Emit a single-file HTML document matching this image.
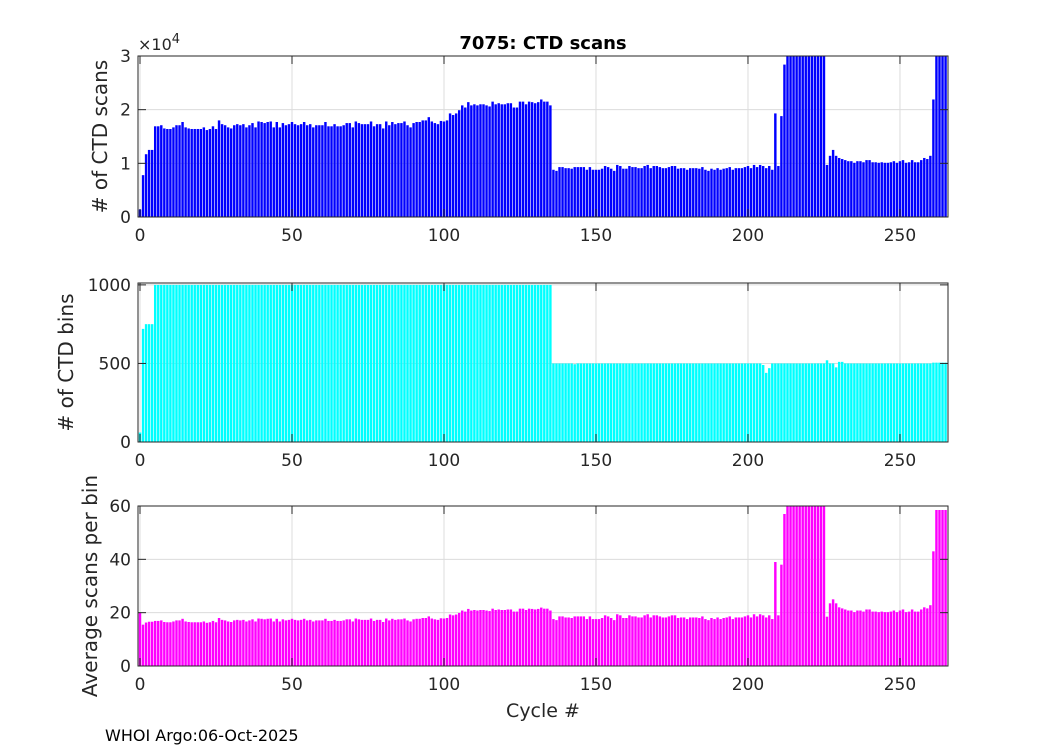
<!DOCTYPE html>
<html><head><meta charset="utf-8"><style>
html,body{margin:0;padding:0;background:#fff;}
svg text{font-family:"DejaVu Sans","Liberation Sans",sans-serif;fill:#262626;}
</style></head><body>
<svg id="chart" width="1050" height="750" viewBox="0 0 1050 750" xmlns="http://www.w3.org/2000/svg">
<rect width="1050" height="750" fill="#fff"/>
<text x="543" y="49" font-size="18" font-weight="bold" text-anchor="middle" style="fill:#000">7075: CTD scans</text>
<text x="543" y="717" font-size="19" text-anchor="middle">Cycle #</text>
<text x="105" y="741" font-size="16" style="fill:#000">WHOI Argo:06-Oct-2025</text>
</svg>
<script>
const cycles = [];
for (let i = 0; i < 266; i++) cycles.push(i);
const scansK = [
1.4,7.8,11.7,12.5,12.5,
16.9,16.9,17.1,16.5,16.4,16.4,16.7,17.1,17.1,17.7,
16.7,16.5,16.4,16.4,16.4,16.4,16.7,16.2,16.4,16.9,
16.4,18.0,17.3,17.1,16.7,16.5,17.1,17.3,17.1,17.3,
16.7,17.1,17.5,16.7,17.8,17.7,17.5,17.7,17.8,16.7,
17.7,16.7,17.5,17.1,17.3,17.7,17.3,17.1,17.3,17.7,
17.1,17.3,16.7,17.1,17.1,17.1,17.7,16.9,16.9,17.3,
16.9,16.9,17.1,17.5,17.5,16.7,17.8,17.5,17.3,17.3,
17.3,17.8,16.9,17.3,17.3,16.5,17.8,17.1,17.7,17.3,
17.5,17.5,17.8,17.1,
16.7,17.5,17.7,17.7,18.0,18.0,18.6,17.8,17.5,17.3,
17.9,17.8,18.0,19.3,19.0,19.3,19.9,20.8,20.4,21.4,
20.8,21.0,20.8,21.0,21.0,20.8,20.6,21.5,21.0,21.2,
21.0,21.0,21.2,21.2,20.4,20.4,21.5,21.5,21.0,21.5,
21.4,21.2,21.4,21.9,21.5,21.5,20.8,
8.8,8.6,9.3,9.3,9.1,9.1,9.0,9.3,9.3,9.3,
9.3,8.8,9.3,8.8,8.8,8.8,9.0,9.5,9.3,9.0,
8.6,9.7,9.5,9.0,9.0,9.5,9.3,9.3,9.1,9.1,
9.5,9.7,9.1,9.5,9.5,9.3,9.1,9.1,9.3,9.5,
9.5,9.0,
9.1,9.1,8.8,9.1,9.1,9.1,9.0,9.3,8.8,8.6,
9.0,8.8,9.1,8.8,9.0,9.1,9.3,8.8,9.1,9.1,
9.1,9.3,9.5,9.1,9.7,9.3,9.7,9.5,9.1,9.5,
8.8,
19.3,9.5,18.8,28.4,
40,40,40,40,40,40,40,40,40,40,40,40,40,
9.7,11.4,12.5,11.4,11.0,10.8,10.6,10.4,10.4,10.1,
10.4,10.4,10.2,10.6,10.6,10.2,10.2,10.1,10.2,10.1,
10.1,10.2,10.4,10.1,10.4,10.6,10.1,10.2,10.6,10.2,
10.2,10.6,11.0,10.8,11.4,
21.9,40,40,40,40];
const bins = [
60,720,750,750,750,1000,1000,1000,1000,1000,
1000,1000,1000,1000,1000,1000,1000,1000,1000,1000,
1000,1000,1000,1000,1000,1000,1000,1000,1000,1000,
1000,1000,1000,1000,1000,1000,1000,1000,1000,1000,
1000,1000,1000,1000,1000,1000,1000,1000,1000,1000,
1000,1000,1000,1000,1000,1000,1000,1000,1000,1000,
1000,1000,1000,1000,1000,1000,1000,1000,1000,1000,
1000,1000,1000,1000,1000,1000,1000,1000,1000,1000,
1000,1000,1000,1000,1000,1000,1000,1000,1000,1000,
1000,1000,1000,1000,1000,1000,1000,1000,1000,1000,
1000,1000,1000,1000,1000,1000,1000,1000,1000,1000,
1000,1000,1000,1000,1000,1000,1000,1000,1000,1000,
1000,1000,1000,1000,1000,1000,1000,1000,1000,1000,
1000,1000,1000,1000,1000,1000,500,500,500,500,
500,500,500,495,500,500,500,500,500,500,
500,500,500,500,500,500,500,500,500,500,
500,500,500,500,500,500,500,500,500,500,
500,500,500,500,500,500,500,500,500,500,
500,500,500,500,500,500,500,500,500,500,
500,500,500,500,500,500,500,500,500,500,
500,500,500,500,500,490,440,470,500,500,
500,500,500,500,500,500,500,500,500,500,
500,500,500,500,500,500,520,500,500,475,
510,510,500,500,500,500,500,500,500,500,
500,500,500,500,500,500,500,500,500,500,
500,500,500,500,500,500,500,500,500,500,
500,505,505,505,505,505];
const avgScans = [
20,15.5,16.3,16.6,16.6,
16.9,16.9,17.1,16.5,16.4,16.4,16.7,17.1,17.1,17.7,
16.7,16.5,16.4,16.4,16.4,16.4,16.7,16.2,16.4,16.9,
16.4,18.0,17.3,17.1,16.7,16.5,17.1,17.3,17.1,17.3,
16.7,17.1,17.5,16.7,17.8,17.7,17.5,17.7,17.8,16.7,
17.7,16.7,17.5,17.1,17.3,17.7,17.3,17.1,17.3,17.7,
17.1,17.3,16.7,17.1,17.1,17.1,17.7,16.9,16.9,17.3,
16.9,16.9,17.1,17.5,17.5,16.7,17.8,17.5,17.3,17.3,
17.3,17.8,16.9,17.3,17.3,16.5,17.8,17.1,17.7,17.3,
17.5,17.5,17.8,17.1,
16.7,17.5,17.7,17.7,18.0,18.0,18.6,17.8,17.5,17.3,
17.9,17.8,18.0,19.3,19.0,19.3,19.9,20.8,20.4,21.4,
20.8,21.0,20.8,21.0,21.0,20.8,20.6,21.5,21.0,21.2,
21.0,21.0,21.2,21.2,20.4,20.4,21.5,21.5,21.0,21.5,
21.4,21.2,21.4,21.9,21.5,21.5,20.8,
17.6,17.2,18.6,18.6,18.2,18.2,18.0,18.6,18.6,18.6,
18.6,17.6,18.6,17.6,17.6,17.6,18.0,19.0,18.6,18.0,
17.2,19.4,19.0,18.0,18.0,19.0,18.6,18.6,18.2,18.2,
19.0,19.4,18.2,19.0,19.0,18.6,18.2,18.2,18.6,19.0,
19.0,18.0,
18.2,18.2,17.6,18.2,18.2,18.2,18.0,18.6,17.6,17.2,
18.0,17.6,18.2,17.6,18.0,18.2,18.6,17.6,18.2,18.2,
18.2,18.6,19.0,18.2,19.4,18.6,19.4,19.0,18.2,19.0,
17.6,
39,19,38,57,
70,70,70,70,70,70,70,70,70,70,70,70,70,
18.5,23.5,25,23.5,22,21.6,21.2,20.8,20.8,20.2,
20.8,20.8,20.4,21.2,21.2,20.4,20.4,20.2,20.4,20.2,
20.2,20.4,20.8,20.2,20.8,21.2,20.2,20.4,21.2,20.4,
20.4,21.2,22,21.6,22.8,
43,58.5,58.5,58.5,58.5];
const xTicks = [0, 50, 100, 150, 200, 250];
const scanTicks = [0, 1, 2, 3];
const binTicks = [0, 500, 1000];
const avgTicks = [0, 20, 40, 60];

const NS = 'http://www.w3.org/2000/svg';
const svg = document.getElementById('chart');
const X0 = 138, X1 = 948, XMIN = -0.66, XMAX = 265.8;
function xs(v) { return X0 + (v - XMIN) / (XMAX - XMIN) * (X1 - X0); }
function mk(tag, attrs, parent) {
  const e = document.createElementNS(NS, tag);
  for (const k in attrs) e.setAttribute(k, attrs[k]);
  (parent || svg).appendChild(e);
  return e;
}
function panel(key, top, bottom, ymax, ticks, values, color, ylabel, labelX) {
  const ys = v => bottom - v / ymax * (bottom - top);
  const g = mk('g', {});
  
  
  const cp = mk('clipPath', { id: 'clip-' + key }, g);
  mk('rect', { x: X0, y: top, width: X1 - X0, height: bottom - top }, cp);
  xTicks.forEach(t => {
    const l = mk('line', { x1: xs(t), x2: xs(t), y1: top, y2: bottom, stroke: '#dcdcdc', 'stroke-width': 1 }, g);
    
    
  });
  ticks.forEach(t => {
    const l = mk('line', { x1: X0, x2: X1, y1: ys(t), y2: ys(t), stroke: '#dcdcdc', 'stroke-width': 1 }, g);
    
    
  });
  const bg = mk('g', { 'clip-path': 'url(#clip-' + key + ')' }, g);
  const bw = 0.8;
  values.forEach((v, i) => {
    const x = xs(cycles[i] - bw / 2), w = xs(cycles[i] + bw / 2) - x;
    const yt = ys(v);
    const r = mk('rect', { x: x.toFixed(2), y: yt.toFixed(2), width: w.toFixed(2), height: (bottom - yt).toFixed(2), fill: color }, bg);
    
    
  });
  const box = mk('rect', { x: X0, y: top, width: X1 - X0, height: bottom - top, fill: 'none', stroke: '#262626', 'stroke-width': 1 }, g);
  
  
  xTicks.forEach(t => {
    mk('line', { x1: xs(t), x2: xs(t), y1: bottom, y2: bottom - 8, stroke: '#262626' }, g);
    mk('line', { x1: xs(t), x2: xs(t), y1: top, y2: top + 8, stroke: '#262626' }, g);
    const tx = mk('text', { x: xs(t), y: bottom + 24, 'font-size': 17, 'text-anchor': 'middle' }, g);
    tx.textContent = t;
    
    
  });
  ticks.forEach(t => {
    mk('line', { x1: X0, x2: X0 + 8, y1: ys(t), y2: ys(t), stroke: '#262626' }, g);
    mk('line', { x1: X1, x2: X1 - 8, y1: ys(t), y2: ys(t), stroke: '#262626' }, g);
    const tx = mk('text', { x: X0 - 7, y: ys(t) + 6, 'font-size': 17, 'text-anchor': 'end' }, g);
    tx.textContent = t;
    
    
  });
  const cy = (top + bottom) / 2;
  const yl = mk('text', { x: 0, y: 0, 'font-size': 20, 'text-anchor': 'middle', transform: 'translate(' + labelX + ',' + cy + ') rotate(-90)' }, g);
  yl.textContent = ylabel;
  
  
}
panel('scans', 56, 217, 3, scanTicks, scansK.map(v => v / 10), '#0000ff', '# of CTD scans', 107);
panel('bins', 283, 442, 1012, binTicks, bins, '#00ffff', '# of CTD bins', 73);
panel('avg', 506, 666, 60, avgTicks, avgScans, '#ff00ff', 'Average scans per bin', 97);
const ex = mk('text', { x: 138, y: 50, 'font-size': 16 });
ex.innerHTML = '×10<tspan dy="-7" font-size="13">4</tspan>';


</script>
</body></html>
